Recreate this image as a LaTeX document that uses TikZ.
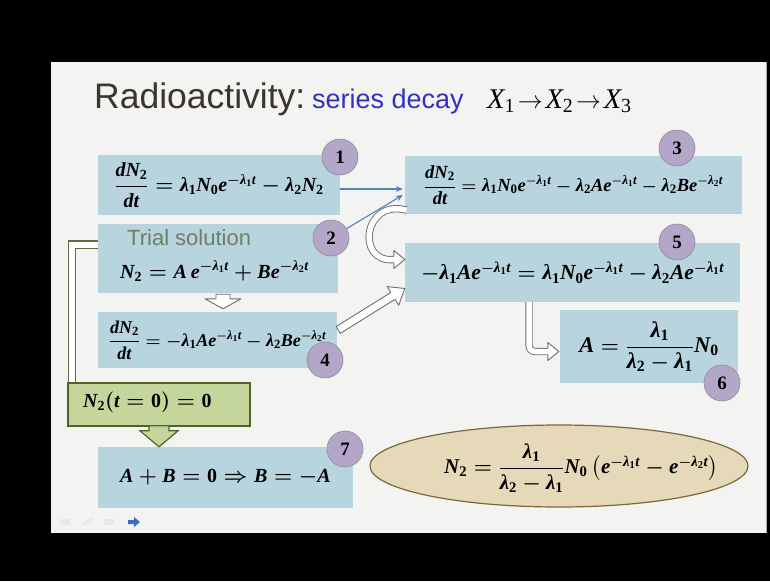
\documentclass[tikz,border=0pt]{standalone}
\usepackage{fontspec}
\setmainfont{Liberation Serif}
\newfontfamily\arialf{Liberation Sans}
\newfontfamily\bifont{Liberation Serif Bold Italic}
\newfontfamily\itfont{Liberation Serif Italic}
\usepackage{amsmath}
\usetikzlibrary{calc,shapes.geometric,arrows.meta}
\definecolor{boxblue}{RGB}{184,212,222}
\definecolor{circfill}{RGB}{180,166,200}
\definecolor{circline}{RGB}{140,140,150}
\definecolor{greenfill}{RGB}{196,214,155}
\definecolor{greenline}{RGB}{80,98,40}
\definecolor{ellfill}{RGB}{230,217,186}
\definecolor{ellline}{RGB}{120,105,55}
\definecolor{slidebg}{RGB}{243,243,241}
\definecolor{titlecol}{RGB}{60,52,48}
\definecolor{seriescol}{RGB}{50,50,190}
\definecolor{trialcol}{RGB}{110,128,96}
\definecolor{arrowgray}{RGB}{110,110,110}
\definecolor{linkblue}{RGB}{80,130,190}
\newcommand\bi[1]{\text{\bifont #1}}
\newcommand\bu[1]{\text{\bfseries #1}}
\newcommand\lm[1]{\bi{λ}_{\bu{#1}}}
\newcommand\ee[1]{\bi{e}^{-\lm{#1}\bi{t}}}
\newcommand\Nn[1]{\bi{N}_{\bu{#1}}}
\newcommand\dNdt{\dfrac{\bi{dN}_{\bu{2}}}{\bi{dt}}}
% hollow straight arrow: start, end, shaft half width, head half width, head length, style
\newcommand\harrow[6]{%
  \coordinate (hA) at (#1); \coordinate (hB) at (#2);
  \coordinate (hH) at ($(hB)!#5!(hA)$);
  \draw[#6] ($(hA)!#3!90:(hB)$) -- ($(hH)!#3!90:(hB)$) -- ($(hH)!#4!90:(hB)$) -- (hB)
    -- ($(hH)!#4!-90:(hB)$) -- ($(hH)!#3!-90:(hB)$) -- ($(hA)!#3!-90:(hB)$) -- cycle;}
\begin{document}
\begin{tikzpicture}[x=1pt,y=-1pt,
  eqbox/.style={fill=boxblue, draw=none, inner sep=0pt, font=\boldmath\fontsize{20}{24}\selectfont},
  fs/.style={font=\boldmath\fontsize{#1}{#1}\selectfont},
  eqtext/.style={inner sep=0pt, font=\boldmath\fontsize{20}{24}\selectfont},
  num/.style={circle, fill=circfill, draw=circline, line width=0.6pt, minimum size=36pt, inner sep=0pt, font=\bfseries\fontsize{19}{20}\selectfont},
  hollow/.style={draw=arrowgray, fill=white, line width=0.9pt, line join=round},
  hollowline/.style={draw=arrowgray, line width=0.9pt, double=white, double distance=5.5pt},
  hollowhead/.style={draw=arrowgray, fill=white, line width=0.9pt, line join=round},
  greenarrow/.style={draw=greenline, fill=greenfill, line width=1.2pt, line join=miter},
  bracketline/.style={draw=greenline!70!gray, line width=1.1pt, double=white, double distance=6pt},
  link/.style={draw=linkblue, line width=1.1pt, -{Stealth[length=7pt,width=6pt]}}
]
\useasboundingbox (0,0) rectangle (770,581);
\fill[black] (0,0) rectangle (770,581);
\fill[slidebg] (51,62) rectangle (766,533);
\draw[gray!70, line width=0.6pt] (766,62) -- (766,533);

% title
\node[anchor=base west, inner sep=0pt, font=\arialf\fontsize{35.5}{38}\selectfont, text=titlecol] (title) at (94,108) {Radioactivity:};
\node[anchor=base west, inner sep=0pt, font=\arialf\fontsize{27}{30}\selectfont, text=seriescol] (series) at (312,108) {series decay};
\node[anchor=base west, inner sep=0pt, font=\fontsize{28.5}{30}\selectfont] (chain) at (487,108) {$\text{\itfont X}_{\text{1}}\!\rightarrow\!\text{\itfont X}_{\text{2}}\!\rightarrow\!\text{\itfont X}_{\text{3}}$};

% boxes
\node[eqbox, minimum width=242pt, minimum height=60pt] (b1) at (219,185) {$\dNdt = \lm{1}\Nn{0}\ee{1} - \lm{2}\Nn{2}$};
\node[eqbox, minimum width=240pt, minimum height=69pt] (b2) at (218,258.5) {};
\node[anchor=base west, inner sep=0pt, font=\arialf\fontsize{22}{24}\selectfont, text=trialcol] (t2a) at (127,245) {Trial solution};
\node[eqtext, anchor=base west] (t2b) at (120,278) {$\Nn{2} = \bi{A}\,\ee{1} + \bi{B}\ee{2}$};
\node[eqbox, fs=18, minimum width=239pt, minimum height=56pt] (b4) at (217.5,340) {$\dNdt = -\lm{1}\bi{A}\ee{1} - \lm{2}\bi{B}\ee{2}$};
\node[eqbox, fs=18.5, minimum width=337pt, minimum height=58pt] (b3) at (573.5,185) {$\dNdt = \lm{1}\Nn{0}\ee{1} - \lm{2}\bi{A}\ee{1} - \lm{2}\bi{B}\ee{2}$};
\node[eqbox, fs=21.5, minimum width=335pt, minimum height=59pt] (b5) at (572.5,272.5) {$-\lm{1}\bi{A}\ee{1} = \lm{1}\Nn{0}\ee{1} - \lm{2}\bi{A}\ee{1}$};
\node[eqbox, fs=22.5, minimum width=178pt, minimum height=73pt] (b6) at (649,346.5) {$\bi{A} = \dfrac{\lm{1}}{\lm{2}-\lm{1}}\Nn{0}$};
\node[eqbox, minimum width=255pt, minimum height=61pt] (b7) at (225.5,477.5) {$\bi{A}+\bi{B}=\bu{0}\Rightarrow \bi{B}=-\bi{A}$};
\node[fill=greenfill, draw=greenline, line width=1.3pt, minimum width=182pt, minimum height=43pt, inner sep=0pt] (g) at (159,404.5) {};
\node[eqtext, anchor=base west] (gt) at (83,407) {$\Nn{2}(\bi{t}=\bu{0})=\bu{0}$};
\node[ellipse, fill=ellfill, draw=ellline, line width=1.2pt, minimum width=378pt, minimum height=82pt, inner sep=0pt] (el) at (559,466) {};
\node[eqtext, fs=21] (elt) at (581,468) {$\Nn{2} = \dfrac{\lm{1}}{\lm{2}-\lm{1}}\Nn{0}\left(\ee{1} - \ee{2}\right)$};

% connectors
\draw[bracketline] ($(b2.west)+(0,-14)$) -| ($(g.north west)+(4.5,0)$);
\harrow{$(g.south)+(0,-1)$}{$(b7.north)+(-66.5,0)$}{10pt}{19pt}{16pt}{greenarrow}
\harrow{$(b2.south)+(5,1)$}{$(b4.north)+(5.5,-3)$}{7pt}{18pt}{10pt}{hollow}
\harrow{$(b4.east)+(1,-10)$}{$(b5.west)+(0,16)$}{4pt}{11pt}{14pt}{hollow}

\coordinate (cS) at ($(b3.south west)+(2,-4)$);
\coordinate (cE) at ($(b5.west)+(-11,-13)$);
\draw[hollowline] (cS) .. controls +(-44,-12) and +(-38,4) .. (cE);
\filldraw[hollowhead] ($(cE)+(0,-3.2)$) -- ($(cE)+(0,-9)$) -- ($(cE)+(11,0)$) -- ($(cE)+(0,9)$) -- ($(cE)+(0,3.2)$);

\coordinate (eS) at ($(b5.south)+(-43.5,0)$);
\coordinate (eE) at ($(b6.west)+(-12,5)$);
\draw[hollowline, rounded corners=6pt] (eS) |- (eE);
\filldraw[hollowhead] ($(eE)+(0,-3.2)$) -- ($(eE)+(0,-9)$) -- ($(eE)+(11,0)$) -- ($(eE)+(0,9)$) -- ($(eE)+(0,3.2)$);

\draw[link] ($(b1.east)+(0,4)$) -- ($(b3.west)+(-2,4)$);

% number circles
\node[num] (c1) at (340,157) {1};
\node[num] (c2) at (331,238) {2};
\node[num] (c3) at (677,148) {3};
\node[num] (c4) at (325,360) {4};
\node[num] (c5) at (677,242) {5};
\node[num] (c6) at (722,383) {6};
\node[num] (c7) at (345,449) {7};
\draw[link] (c2) -- ($(b3.west)+(-2,10)$);

% faint slide-show controls
\fill[gray!18] (60,519) rectangle (70,525);
\fill[gray!18] (82,524) -- (92,517) -- (93,519) -- (84,525) -- cycle;
\fill[gray!18] (104,519) rectangle (114,525);
\fill[linkblue!80!blue] (128,520) -- (134,520) -- (134,517) -- (140,522) -- (134,527) -- (134,524) -- (128,524) -- cycle;
\end{tikzpicture}
\end{document}
